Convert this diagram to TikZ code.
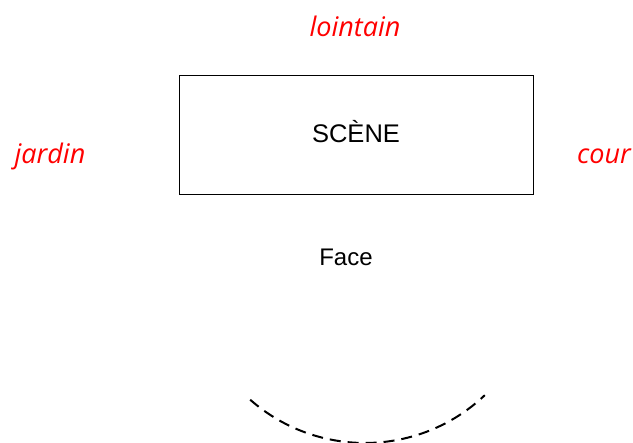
\documentclass[tikz,border=0pt]{standalone}
\usepackage{fontspec}
\setmainfont{Liberation Sans}
\newfontfamily\handfont{Open Sans}
\usetikzlibrary{calc}

\tikzset{
	side/.style = {text = red, font = \handfont\itshape\fontsize{27}{27}\selectfont},
	plain/.style = {font = \fontsize{24}{24}\selectfont}
}

\begin{document}
\begin{tikzpicture}[x = 1pt, y = 1pt]
	\useasboundingbox (0,0) rectangle (633,443);
	\draw[thick] (179,249) rectangle (533,368);
	\node[plain, font = \fontsize{25.5}{25.5}\selectfont] (scene) at (356,311) {SCÈNE};
	\node[plain] (face) at (346,186) {Face};
	\node[side] (lointain) at (355,417) {lointain};
	\node[side] (jardin) at (50,287) {jardin};
	\node[side] (cour) at (604,287) {cour};
	\draw[line width = 2pt, dash pattern = on 11pt off 7pt] (365,174) ++(228.7:174) arc [start angle = 228.7, end angle = 313.5, radius = 174];
\end{tikzpicture}
\end{document}
